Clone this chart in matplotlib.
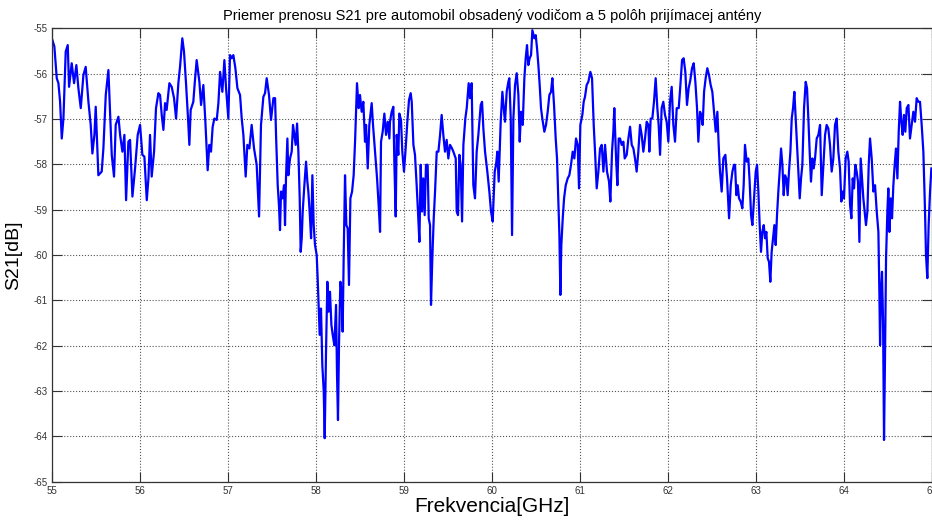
import numpy as np
import matplotlib
matplotlib.use("Agg")
import matplotlib.pyplot as plt

plt.rcParams['font.family'] = ['Liberation Sans', 'DejaVu Sans']

# S21 trace, frequency in GHz
freq = [
    55.008, 55.030, 55.057, 55.076, 55.095, 55.114, 55.133, 55.159, 55.182, 55.197,
    55.227, 55.254, 55.280, 55.303, 55.330, 55.360, 55.386, 55.417, 55.443, 55.462,
    55.485, 55.500, 55.530, 55.549, 55.568, 55.587, 55.614, 55.644, 55.663, 55.682,
    55.708, 55.727, 55.758, 55.777, 55.803, 55.826, 55.845, 55.871, 55.890, 55.917,
    55.947, 55.977, 56.004, 56.030, 56.053, 56.080, 56.099, 56.117, 56.136, 56.163,
    56.185, 56.212,
    56.231, 56.250, 56.269, 56.288, 56.306, 56.337, 56.363, 56.390, 56.413, 56.439,
    56.458, 56.484, 56.503, 56.526, 56.549, 56.564, 56.579, 56.609, 56.625, 56.647,
    56.678, 56.697, 56.723, 56.746, 56.772, 56.791, 56.810, 56.829, 56.848, 56.875,
    56.894, 56.913, 56.939, 56.962, 56.981, 57.007, 57.026, 57.045, 57.064, 57.087,
    57.110, 57.140, 57.159, 57.178, 57.204, 57.223, 57.246, 57.272, 57.299, 57.329,
    57.356, 57.378, 57.405, 57.424, 57.443, 57.469, 57.492, 57.519,
    57.538, 57.549, 57.568, 57.583, 57.594, 57.606, 57.621, 57.640, 57.651, 57.662,
    57.678, 57.689, 57.708, 57.727, 57.742, 57.757, 57.772, 57.788, 57.803, 57.818,
    57.829, 57.841, 57.852, 57.871, 57.890, 57.905, 57.916, 57.931, 57.947, 57.962,
    57.977, 57.992, 58.011, 58.022, 58.034, 58.045, 58.060, 58.075, 58.091, 58.102,
    58.117, 58.132, 58.147, 58.162, 58.178, 58.193, 58.212, 58.231, 58.242, 58.253,
    58.265, 58.280, 58.295, 58.306, 58.318, 58.333, 58.348, 58.363, 58.378, 58.394,
    58.413, 58.431, 58.447, 58.469, 58.488, 58.503, 58.522, 58.541, 58.560, 58.572,
    58.591, 58.609, 58.636, 58.651, 58.674, 58.697, 58.715, 58.731, 58.742, 58.761,
    58.780, 58.799, 58.818, 58.837,
    58.844, 58.863, 58.882, 58.894, 58.909, 58.920, 58.939, 58.950, 58.969, 58.984,
    59.003, 59.022, 59.041, 59.060, 59.079, 59.091, 59.110, 59.128, 59.147, 59.162,
    59.178, 59.193, 59.208, 59.223, 59.238, 59.253, 59.272, 59.284, 59.299, 59.310,
    59.325, 59.341, 59.356, 59.375, 59.394, 59.413, 59.431, 59.450, 59.469, 59.488,
    59.507, 59.526, 59.549, 59.564, 59.591, 59.602, 59.617, 59.632, 59.647, 59.663,
    59.678, 59.700, 59.716, 59.738, 59.753, 59.772, 59.791, 59.810, 59.829, 59.848,
    59.875, 59.890, 59.905, 59.924, 59.950, 59.973, 59.992, 60.011, 60.034, 60.049,
    60.064, 60.079, 60.102, 60.121, 60.140,
    60.151, 60.170, 60.189, 60.200, 60.216, 60.231, 60.246, 60.265, 60.284, 60.303,
    60.318, 60.333, 60.352, 60.371, 60.386, 60.401, 60.416, 60.431, 60.447, 60.462,
    60.484, 60.500, 60.515, 60.530, 60.545, 60.560, 60.575, 60.598, 60.617, 60.636,
    60.655, 60.674, 60.689, 60.708, 60.727, 60.742, 60.757, 60.769, 60.780, 60.791,
    60.807, 60.822, 60.841, 60.863, 60.882, 60.901, 60.920, 60.939, 60.958, 60.977,
    60.992, 61.007, 61.030, 61.045, 61.060, 61.079, 61.098, 61.121, 61.140, 61.159,
    61.174, 61.193, 61.212, 61.231, 61.250, 61.269, 61.288, 61.310, 61.333, 61.348,
    61.367, 61.382, 61.393, 61.413, 61.428, 61.443,
    61.458, 61.477, 61.496, 61.511, 61.534, 61.553, 61.572, 61.591, 61.610, 61.628,
    61.647, 61.666, 61.685, 61.704, 61.723, 61.742, 61.761, 61.780, 61.791, 61.806,
    61.825, 61.844, 61.863, 61.882, 61.897, 61.913, 61.931, 61.950, 61.969, 61.988,
    62.007, 62.026, 62.045, 62.064, 62.083, 62.102, 62.125, 62.144, 62.163, 62.181,
    62.200, 62.219, 62.238, 62.257, 62.276, 62.295, 62.314, 62.333, 62.348, 62.367,
    62.382, 62.397, 62.413, 62.431, 62.450, 62.469, 62.488, 62.507, 62.526, 62.545,
    62.564, 62.579, 62.594, 62.613, 62.632, 62.655, 62.674, 62.697, 62.716, 62.735,
    62.753,
    62.765, 62.780, 62.795, 62.810, 62.829, 62.848, 62.863, 62.878, 62.897, 62.916,
    62.931, 62.947, 62.962, 62.981, 63.000, 63.015, 63.030, 63.045, 63.060, 63.075,
    63.091, 63.106, 63.121, 63.136, 63.151, 63.166, 63.181, 63.197, 63.212, 63.227,
    63.242, 63.257, 63.272, 63.288, 63.303, 63.318, 63.333, 63.348, 63.363, 63.378,
    63.394, 63.409, 63.424, 63.439, 63.454, 63.469, 63.485, 63.500, 63.515, 63.530,
    63.549, 63.568, 63.583, 63.598, 63.613, 63.628, 63.644, 63.659, 63.674, 63.693,
    63.712,
    63.731, 63.750, 63.769, 63.788, 63.806, 63.825, 63.844, 63.863, 63.882, 63.901,
    63.920, 63.939, 63.958, 63.973, 63.988, 64.003, 64.022, 64.041, 64.056, 64.072,
    64.087, 64.102, 64.117, 64.132, 64.147, 64.162, 64.178, 64.193, 64.208, 64.223,
    64.238, 64.253, 64.269, 64.284, 64.299, 64.318, 64.337, 64.356, 64.375, 64.394,
    64.405, 64.413, 64.424, 64.435, 64.447, 64.458, 64.469, 64.481, 64.496, 64.507,
    64.519, 64.534, 64.549, 64.564, 64.579, 64.594, 64.610, 64.625, 64.640, 64.655,
    64.670, 64.685, 64.700, 64.716, 64.735, 64.753, 64.772, 64.791, 64.810, 64.829,
    64.848, 64.867, 64.886, 64.905, 64.924, 64.935, 64.950, 64.965, 64.981, 64.996,
]

# measured S21 in dB
s21 = [
    -55.26, -55.40, -56.10, -56.21, -56.62, -57.43, -56.99, -55.51, -55.37, -56.29,
    -55.77, -56.21, -55.81, -56.32, -56.76, -56.03, -55.85, -56.62, -57.13, -57.76,
    -57.35, -56.73, -58.24, -58.20, -58.16, -57.65, -56.47, -55.92, -56.84, -57.79,
    -58.27, -57.13, -56.95, -57.35, -57.72, -57.35, -58.79, -57.50, -57.46, -58.71,
    -58.09, -57.35, -57.13, -57.79, -57.83, -58.79, -58.31, -57.35, -58.27, -57.72,
    -56.76, -56.43,
    -56.47, -56.91, -57.24, -56.65, -56.80, -56.21, -56.29, -56.54, -56.99, -56.21,
    -55.85, -55.22, -55.51, -56.21, -56.99, -57.57, -56.80, -56.62, -56.21, -55.70,
    -56.18, -56.69, -56.25, -57.06, -58.13, -57.57, -57.72, -57.17, -56.99, -57.02,
    -56.65, -55.96, -56.40, -55.70, -56.32, -56.99, -55.59, -55.66, -55.59, -55.88,
    -56.32, -56.47, -56.99, -57.35, -58.27, -57.57, -57.65, -57.13, -57.65, -58.01,
    -59.15, -57.13, -56.51, -56.43, -56.10, -56.47, -57.02, -56.54,
    -56.54, -57.35, -58.46, -58.93, -59.45, -58.60, -58.75, -58.46, -59.34, -58.31,
    -57.43, -58.24, -57.87, -57.72, -57.13, -57.35, -57.57, -57.10, -57.72, -58.75,
    -59.93, -59.63, -59.04, -58.46, -57.94, -58.38, -58.60, -59.04, -59.63, -58.24,
    -59.34, -59.78, -60.00, -60.51, -61.18, -61.76, -61.18, -62.43, -63.01, -64.04,
    -62.13, -60.59, -61.25, -60.81, -61.54, -61.76, -61.99, -61.10, -62.65, -63.64,
    -61.91, -60.59, -60.81, -61.69, -60.00, -58.24, -59.34, -59.41, -60.66, -58.75,
    -58.60, -58.24, -57.50, -56.21, -56.76, -56.47, -56.84, -56.62, -57.50, -57.13,
    -58.09, -57.13, -56.65, -57.13, -57.72, -58.31, -58.90, -59.49, -57.50, -57.28,
    -56.88, -57.35, -57.06, -57.43,
    -57.06, -56.84, -56.73, -58.01, -59.15, -57.35, -57.79, -56.88, -57.02, -57.72,
    -58.16, -57.65, -57.06, -56.58, -56.43, -56.62, -57.57, -57.79, -58.46, -59.04,
    -59.71, -58.01, -59.04, -58.31, -59.12, -58.01, -58.01, -59.19, -59.34, -61.10,
    -60.07, -59.19, -58.60, -57.72, -57.72, -57.35, -56.91, -57.35, -57.72, -57.46,
    -57.87, -57.57, -57.65, -57.72, -57.87, -59.04, -59.12, -57.79, -58.01, -59.26,
    -57.57, -56.99, -56.76, -56.21, -56.54, -56.21, -58.46, -58.75, -57.72, -57.35,
    -56.69, -56.62, -57.21, -57.72, -58.16, -58.60, -59.04, -59.26, -58.16, -58.01,
    -57.72, -58.38, -57.06, -56.40, -56.84,
    -57.06, -56.40, -56.18, -56.10, -56.99, -59.56, -56.99, -56.25, -55.99, -56.47,
    -57.50, -56.84, -57.13, -56.10, -55.66, -55.37, -55.81, -55.66, -55.59, -55.04,
    -55.22, -55.15, -55.44, -55.81, -56.25, -56.76, -56.99, -57.28, -57.13, -56.84,
    -56.47, -56.40, -56.10, -56.69, -57.43, -57.87, -58.82, -59.56, -60.88, -59.78,
    -59.19, -58.75, -58.46, -58.31, -58.24, -58.01, -57.72, -57.87, -57.43, -57.57,
    -58.53, -57.13, -56.91, -56.62, -56.51, -56.25, -56.18, -55.96, -56.10, -57.13,
    -57.72, -58.53, -58.16, -57.65, -57.57, -58.16, -57.57, -58.16, -58.38, -58.82,
    -57.72, -57.28, -56.76, -57.87, -58.46, -57.43,
    -57.43, -57.57, -57.50, -57.87, -57.79, -57.43, -57.17, -57.57, -57.65, -57.87,
    -58.16, -57.72, -57.13, -57.35, -57.72, -57.43, -57.06, -57.13, -57.72, -56.99,
    -56.99, -56.62, -56.10, -56.76, -57.13, -57.79, -56.76, -56.62, -56.91, -57.06,
    -57.50, -56.62, -56.29, -57.13, -57.50, -56.76, -56.76, -56.25, -55.70, -55.66,
    -55.96, -56.69, -56.32, -56.14, -55.88, -55.77, -56.18, -56.76, -57.50, -56.84,
    -56.91, -57.13, -56.40, -56.10, -55.88, -56.03, -56.25, -56.40, -56.84, -57.28,
    -56.84, -57.57, -58.16, -58.60, -57.87, -57.79, -58.31, -59.19, -58.46, -58.16,
    -58.01,
    -58.01, -58.68, -58.46, -58.75, -58.82, -58.97, -58.46, -57.57, -57.94, -57.87,
    -58.38, -59.12, -59.34, -58.75, -58.16, -58.01, -58.60, -59.34, -59.93, -59.49,
    -59.34, -59.63, -59.49, -60.07, -60.15, -60.59, -59.93, -59.63, -59.34, -59.78,
    -59.12, -58.60, -58.16, -57.65, -58.01, -58.68, -58.24, -58.31, -58.68, -58.16,
    -57.72, -56.99, -56.76, -56.40, -56.99, -57.57, -58.16, -58.75, -58.31, -58.01,
    -56.76, -56.18, -56.32, -56.99, -57.72, -58.38, -57.87, -58.09, -57.87, -57.43,
    -57.35,
    -57.13, -58.68, -58.01, -57.35, -57.13, -57.21, -57.57, -58.16, -57.87, -57.13,
    -56.99, -57.72, -58.09, -58.82, -58.60, -58.75, -57.87, -57.72, -57.94, -58.90,
    -59.19, -58.31, -58.53, -58.01, -58.16, -58.38, -59.71, -57.87, -58.31, -58.75,
    -59.04, -59.34, -59.04, -58.01, -57.43, -57.87, -58.60, -58.46, -59.04, -59.49,
    -60.81, -61.99, -60.81, -60.37, -61.47, -64.08, -62.28, -60.07, -59.04, -58.53,
    -59.49, -58.75, -59.19, -58.46, -58.01, -57.65, -58.31, -57.28, -56.62, -57.06,
    -57.35, -56.91, -57.28, -56.76, -56.69, -57.43, -57.13, -56.84, -57.06, -56.54,
    -56.62, -56.62, -57.13, -57.72, -59.04, -60.00, -60.51, -59.34, -58.60, -58.09,
]

x_ticks = np.arange(55, 66, 1)
y_ticks = np.arange(-65, -54, 1)

fig = plt.figure(figsize=(9.32, 5.21), dpi=100)
ax = fig.add_axes([0.0555, 0.0754, 0.9442, 0.8702])

ax.plot(freq, s21, color='#0000ff', lw=1.6)

ax.set_xlim(55, 65)
ax.set_ylim(-65, -55)
ax.set_xticks(x_ticks)
ax.set_yticks(y_ticks)
ax.set_xticklabels([str(v) for v in x_ticks])
ax.set_yticklabels([str(v) for v in y_ticks])

ax.grid(True, linestyle=':', color='#555555', lw=0.8)
ax.tick_params(direction='in', length=7, width=0.8, top=True, right=True,
               labelsize=7, colors='#333333', pad=3)
for s in ax.spines.values():
    s.set_color('#333333')
    s.set_linewidth(0.9)

ax.set_title('Priemer prenosu S21 pre automobil obsadený vodičom a 5 polôh prijímacej antény',
             fontsize=10.5, pad=6)
ax.set_xlabel('Frekvencia[GHz]', fontsize=15, labelpad=1)
ax.set_ylabel('S21[dB]', fontsize=14, labelpad=8)

fig.savefig('out.png', dpi=100)
